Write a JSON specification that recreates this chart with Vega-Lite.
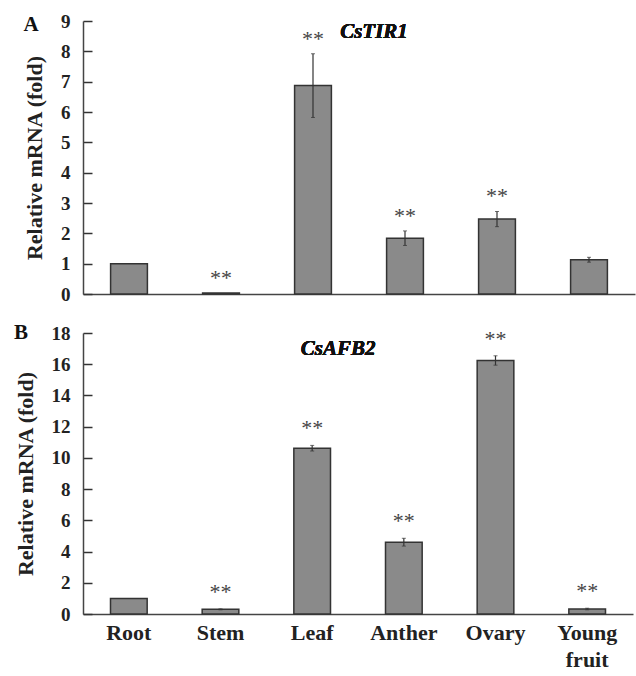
{
  "$schema": "https://vega.github.io/schema/vega-lite/v6.json",
  "padding": {"left": 14, "top": 12, "right": 3, "bottom": 0},
  "background": "white",
  "spacing": 18,
  "config": {
    "font": "Liberation Serif",
    "view": {"stroke": null},
    "title": {"font": "Liberation Serif", "fontSize": 21, "fontWeight": "bold", "color": "#111"},
    "axisY": {
      "titleFont": "Liberation Serif", "titleFontSize": 22, "titleFontWeight": "bold", "titleColor": "#222", "titlePadding": 14,
      "labelFont": "Liberation Serif", "labelFontSize": 19, "labelFontWeight": "bold", "labelColor": "#222",
      "ticks": true, "tickSize": -9, "labelPadding": 22, "grid": false,
      "domainColor": "#444", "tickColor": "#333", "domainWidth": 1.5, "tickWidth": 1.5
    },
    "axisX": {
      "labelFont": "Liberation Serif", "labelFontSize": 22, "labelFontWeight": "bold", "labelColor": "#222",
      "ticks": false, "labelAngle": 0, "labelPadding": 8, "grid": false,
      "domainColor": "#444", "domainWidth": 1.5
    }
  },
  "datasets": {
    "a": [
      {"tissue": "Root", "value": 1.0, "err": 0, "sig": ""},
      {"tissue": "Stem", "value": 0.03, "err": 0, "sig": "**"},
      {"tissue": "Leaf", "value": 6.87, "err": 1.05, "sig": "**"},
      {"tissue": "Anther", "value": 1.84, "err": 0.24, "sig": "**"},
      {"tissue": "Ovary", "value": 2.47, "err": 0.25, "sig": "**"},
      {"tissue": "Young fruit", "value": 1.13, "err": 0.08, "sig": ""}
    ],
    "b": [
      {"tissue": "Root", "value": 1.0, "err": 0, "sig": ""},
      {"tissue": "Stem", "value": 0.3, "err": 0.03, "sig": "**"},
      {"tissue": "Leaf", "value": 10.62, "err": 0.18, "sig": "**"},
      {"tissue": "Anther", "value": 4.6, "err": 0.25, "sig": "**"},
      {"tissue": "Ovary", "value": 16.24, "err": 0.3, "sig": "**"},
      {"tissue": "Young fruit", "value": 0.32, "err": 0.05, "sig": "**"}
    ]
  },
  "vconcat": [
    {
      "width": 552,
      "height": 273,
      "data": {"name": "a"},
      "title": {"text": "A", "anchor": "start", "frame": "bounds", "offset": 0, "dy": 23},
      "encoding": {
        "x": {
          "field": "tissue", "type": "nominal", "sort": null,
          "scale": {"paddingInner": 0.6, "paddingOuter": 0.3},
          "axis": {"title": null, "labels": false}
        }
      },
      "layer": [
        {
          "mark": {"type": "bar", "fill": "#8a8a8a", "stroke": "#333", "strokeWidth": 1.5},
          "encoding": {
            "y": {
              "field": "value", "type": "quantitative",
              "scale": {"domain": [0, 9]},
              "axis": {"title": "Relative mRNA (fold)", "values": [0, 1, 2, 3, 4, 5, 6, 7, 8, 9]}
            }
          }
        },
        {
          "transform": [{"filter": "datum.err > 0"}],
          "mark": {"type": "errorbar", "ticks": {"size": 4, "color": "#333"}, "rule": {"color": "#333", "strokeWidth": 1.2}},
          "encoding": {
            "y": {"field": "value", "type": "quantitative", "axis": {"title": "Relative mRNA (fold)", "values": [0, 1, 2, 3, 4, 5, 6, 7, 8, 9]}},
            "yError": {"field": "err"}
          }
        },
        {
          "transform": [{"filter": "datum.sig != ''"}, {"calculate": "datum.value + datum.err", "as": "top"}],
          "mark": {"type": "text", "baseline": "alphabetic", "dy": -8, "fontSize": 22, "color": "#444"},
          "encoding": {
            "y": {"field": "top", "type": "quantitative", "axis": {"title": "Relative mRNA (fold)", "values": [0, 1, 2, 3, 4, 5, 6, 7, 8, 9]}},
            "text": {"field": "sig"}
          }
        },
        {
          "mark": {"type": "text", "text": "CsTIR1", "fontSize": 21, "fontWeight": "bold", "fontStyle": "italic", "baseline": "middle", "dx": 61, "color": "#111"},
          "encoding": {
            "x": {"datum": "Leaf"},
            "y": {"datum": 8.64, "axis": {"title": "Relative mRNA (fold)", "values": [0, 1, 2, 3, 4, 5, 6, 7, 8, 9]}}
          }
        }
      ]
    },
    {
      "width": 550,
      "height": 281,
      "data": {"name": "b"},
      "title": {"text": "B", "anchor": "start", "frame": "bounds", "offset": 0, "dy": 19},
      "encoding": {
        "x": {
          "field": "tissue", "type": "nominal", "sort": null,
          "scale": {"paddingInner": 0.6, "paddingOuter": 0.3},
          "axis": {
            "title": null, "labelLineHeight": 27,
            "labelExpr": "datum.value == 'Young fruit' ? ['Young', 'fruit'] : datum.value"
          }
        }
      },
      "layer": [
        {
          "mark": {"type": "bar", "fill": "#8a8a8a", "stroke": "#333", "strokeWidth": 1.5},
          "encoding": {
            "y": {
              "field": "value", "type": "quantitative",
              "scale": {"domain": [0, 18]},
              "axis": {"title": "Relative mRNA (fold)", "values": [0, 2, 4, 6, 8, 10, 12, 14, 16, 18]}
            }
          }
        },
        {
          "transform": [{"filter": "datum.err > 0"}],
          "mark": {"type": "errorbar", "ticks": {"size": 4, "color": "#333"}, "rule": {"color": "#333", "strokeWidth": 1.2}},
          "encoding": {
            "y": {"field": "value", "type": "quantitative", "axis": {"title": "Relative mRNA (fold)", "values": [0, 2, 4, 6, 8, 10, 12, 14, 16, 18]}},
            "yError": {"field": "err"}
          }
        },
        {
          "transform": [{"filter": "datum.sig != ''"}, {"calculate": "datum.value + datum.err", "as": "top"}],
          "mark": {"type": "text", "baseline": "alphabetic", "dy": -10, "fontSize": 22, "color": "#444"},
          "encoding": {
            "y": {"field": "top", "type": "quantitative", "axis": {"title": "Relative mRNA (fold)", "values": [0, 2, 4, 6, 8, 10, 12, 14, 16, 18]}},
            "text": {"field": "sig"}
          }
        },
        {
          "mark": {"type": "text", "text": "CsAFB2", "fontSize": 21, "fontWeight": "bold", "fontStyle": "italic", "baseline": "middle", "dx": 26, "color": "#111"},
          "encoding": {
            "x": {"datum": "Leaf"},
            "y": {"datum": 17.0, "axis": {"title": "Relative mRNA (fold)", "values": [0, 2, 4, 6, 8, 10, 12, 14, 16, 18]}}
          }
        }
      ]
    }
  ]
}
